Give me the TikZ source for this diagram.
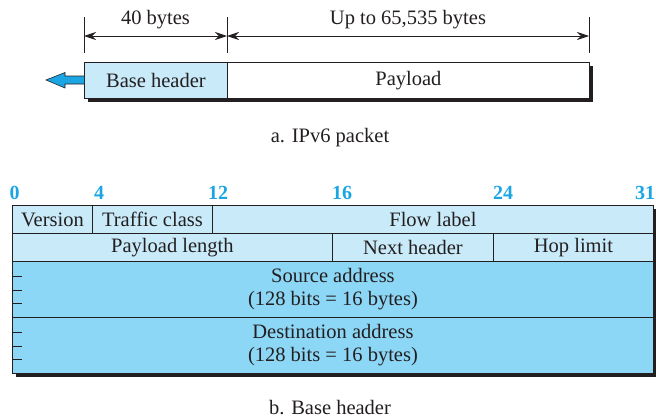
\documentclass[tikz,border=0pt]{standalone}
\usepackage{fontspec}
\setmainfont{Liberation Serif}
\usetikzlibrary{arrows.meta}
\definecolor{lightcell}{HTML}{C9EAF9}
\definecolor{darkcell}{HTML}{8DD7F6}
\definecolor{bitblue}{HTML}{1BA6E3}
\definecolor{ink}{HTML}{231F20}
\begin{document}
\begin{tikzpicture}[x=1pt,y=-1pt,
  txt/.style={font=\fontsize{20.5}{23}\selectfont, text=ink, inner sep=0},
  cell/.style={txt, draw=ink, line width=0.9pt, anchor=north west, align=center},
  lcell/.style={cell, fill=lightcell},
  dcell/.style={cell, fill=darkcell},
  bitno/.style={font=\fontsize{20}{23}\selectfont\bfseries, text=bitblue, inner sep=0, anchor=base},
  dim/.style={draw=ink, line width=0.8pt},
  dimarrow/.style={dim, {Stealth[length=12pt,width=8pt,inset=4pt]}-{Stealth[length=12pt,width=8pt,inset=4pt]}},
  shadow/.style={fill=ink, draw=none}
]
\useasboundingbox (0,0) rectangle (656,418);

% ---------- a. IPv6 packet ----------
\fill[shadow] (88,66) rectangle (593,102);
\node[lcell, minimum width=143pt, minimum height=36pt] (bh) at (84,62) {Base header};
\node[cell, fill=white, minimum width=362pt, minimum height=36pt] (pl) at (227,62) {Payload};

% dimension ticks
\coordinate (t1a) at (84,17);  \coordinate (t1b) at (84,53);
\coordinate (t2a) at (227,17); \coordinate (t2b) at (227,53);
\coordinate (t3a) at (589,17); \coordinate (t3b) at (589,53);
\draw[dim] (t1a) -- (t1b);
\draw[dim] (t2a) -- (t2b);
\draw[dim] (t3a) -- (t3b);
\coordinate (d1) at (84,36); \coordinate (d2) at (227,36); \coordinate (d3) at (589,36);
\draw[dimarrow] (d1) -- (d2);
\draw[dimarrow] (d2) -- (d3);
\node[txt, anchor=base] (l40) at (155.5,24) {40 bytes};
\node[txt, anchor=base] (lup) at (408,24) {Up to 65,535 bytes};

% blue outgoing arrow
\draw[fill=bitblue, draw=ink, line width=0.6pt, line join=miter]
  (bh.west |- 0,76) -- (65,76) -- (65,72.5) -- (46,80) -- (65,88) -- (65,84) -- (bh.west |- 0,84);

\node[txt, anchor=base] (capa) at (330,142) {a. IPv6 packet};

% ---------- b. Base header ----------
\node[bitno] (b0)  at (14.5,199) {0};
\node[bitno] (b4)  at (99,199) {4};
\node[bitno] (b12) at (218,199) {12};
\node[bitno] (b16) at (342,199) {16};
\node[bitno] (b24) at (503,199) {24};
\node[bitno] (b31) at (645,199) {31};

\fill[shadow] (15.5,208.5) rectangle (656.5,376.5);

\node[lcell, minimum width=80pt,  minimum height=28pt] (ver)  at (12,205)  {Version};
\node[lcell, minimum width=120pt, minimum height=28pt] (tc)   at (92,205)  {Traffic class};
\node[lcell, minimum width=441pt, minimum height=28pt] (fl)   at (212,205) {Flow label};
\node[lcell, minimum width=320pt, minimum height=28pt] (plen) at (12,233)  {Payload length};
\node[lcell, minimum width=161pt, minimum height=28pt] (nh)   at (332,233) {Next header};
\node[lcell, minimum width=160pt, minimum height=28pt] (hop)  at (493,233) {Hop limit};
\node[dcell, minimum width=641pt, minimum height=56pt] (src)  at (12,261)  {Source address\\(128 bits = 16 bytes)};
\node[dcell, minimum width=641pt, minimum height=56pt] (dst)  at (12,317)  {Destination address\\(128 bits = 16 bytes)};

% left tick marks
\foreach \yy in {15,29,42} {
  \draw[dim] ([shift={(0,\yy)}]src.north west) -- ++(10,0);
  \draw[dim] ([shift={(0,\yy)}]dst.north west) -- ++(10,0);
}

\node[txt, anchor=base] (capb) at (330,414) {b. Base header};
\end{tikzpicture}
\end{document}
